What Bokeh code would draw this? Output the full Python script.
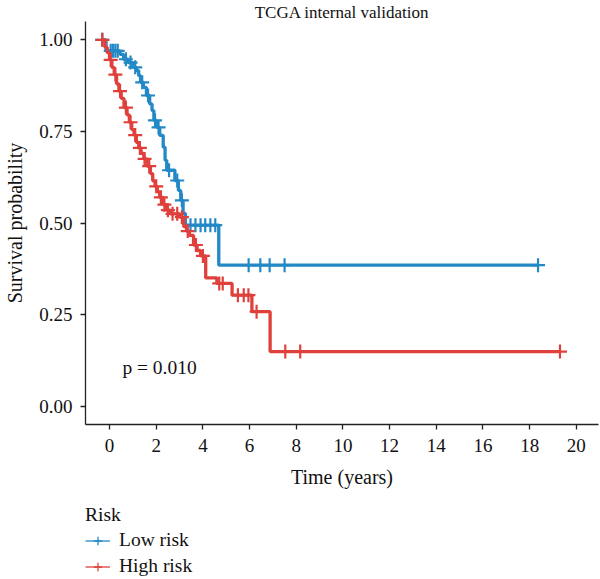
import numpy as np
from bokeh.plotting import figure
from bokeh.models import Range1d, Label, Legend, LegendItem, FixedTicker, NumeralTickFormatter, ColumnDataSource
from bokeh.layouts import column
from bokeh.embed import file_html
from bokeh.resources import INLINE

TITLE = "TCGA internal validation"
X_LABEL = "Time (years)"
Y_LABEL = "Survival probability"
P_TEXT = "p = 0.010"
LEGEND_TITLE = "Risk"
GROUPS = ["Low risk", "High risk"]
COLORS = ["#2389c6", "#e0403b"]
X_TICKS = [0, 2, 4, 6, 8, 10, 12, 14, 16, 18, 20]
Y_TICKS = [0.0, 0.25, 0.5, 0.75, 1.0]

# Low risk: event times and survival after each step
low_t = [-0.31, -0.15, 0.45, 0.6, 0.8, 1.0, 1.15, 1.25, 1.33, 1.45, 1.58, 1.72, 1.82, 1.9,
         2.02, 2.15, 2.3, 2.38, 2.45, 2.8, 2.95, 3.05, 3.15, 3.25, 4.68]
low_s = [1.0, 0.97, 0.96, 0.947, 0.938, 0.925, 0.916, 0.902, 0.884, 0.87, 0.848, 0.825, 0.807, 0.78,
         0.761, 0.739, 0.707, 0.671, 0.644, 0.616, 0.589, 0.562, 0.526, 0.494, 0.385]
low_cens = [-0.31, 0.05, 0.15, 0.25, 0.35, 0.7, 0.9, 1.1, 1.4, 1.65, 1.95, 2.1, 2.55, 2.9, 3.1,
            3.47, 3.68, 3.9, 4.1, 4.32, 4.53, 5.96, 6.46, 6.86, 7.5, 18.36]

# High risk
high_t = [-0.31, -0.2, -0.1, 0.0, 0.1, 0.2, 0.3, 0.4, 0.5, 0.62, 0.75, 0.85, 0.95, 1.05, 1.15,
          1.25, 1.35, 1.47, 1.6, 1.75, 1.85, 1.95, 2.05, 2.15, 2.3, 2.45, 2.6, 3.0, 3.18, 3.3,
          3.42, 3.6, 3.75, 3.9, 4.12, 4.6, 5.25, 6.1, 6.88]
high_s = [1.0, 0.98, 0.965, 0.945, 0.925, 0.905, 0.88, 0.86, 0.84, 0.815, 0.795, 0.775, 0.755,
          0.74, 0.72, 0.705, 0.69, 0.675, 0.655, 0.635, 0.615, 0.6, 0.585, 0.57, 0.55, 0.535,
          0.525, 0.516, 0.49, 0.478, 0.466, 0.44, 0.425, 0.41, 0.35, 0.335, 0.303, 0.258, 0.149]
high_cens = [-0.31, 0.05, 0.25, 0.45, 0.7, 0.9, 1.1, 1.3, 1.5, 1.7, 2.0, 2.2, 2.35, 2.5, 2.7,
             2.9, 3.1, 3.35, 3.7, 4.0, 4.7, 4.85, 5.5, 5.75, 5.95, 6.3, 7.53, 8.17, 19.3]

FONT = "Liberation Serif"
INK = "#111111"

p = figure(width=600, height=500, x_range=Range1d(-1.03, 20.95), y_range=Range1d(-0.05, 1.05),
           output_backend="svg", toolbar_location=None, title=TITLE)
p.min_border_left = 85
p.min_border_right = 2
p.min_border_top = 21
p.min_border_bottom = 76
p.outline_line_color = None
p.grid.visible = False
p.title.align = "center"
p.title.text_font = FONT
p.title.text_font_size = "17px"
p.title.text_font_style = "normal"
p.title.text_color = INK
p.title.standoff = 0
p.title.offset = 0

for ax in (p.xaxis[0], p.yaxis[0]):
    ax.axis_line_color = "#222222"
    ax.axis_line_width = 1.3
    ax.major_tick_line_color = "#222222"
    ax.major_tick_line_width = 1.3
    ax.major_tick_out = 5
    ax.major_tick_in = 0
    ax.minor_tick_line_color = None
    ax.major_label_text_font = FONT
    ax.major_label_text_font_size = "19px"
    ax.major_label_text_color = INK
    ax.axis_label_text_font = FONT
    ax.axis_label_text_font_size = "20px"
    ax.axis_label_text_font_style = "normal"
    ax.axis_label_text_color = INK

p.xaxis.ticker = FixedTicker(ticks=X_TICKS)
p.yaxis.ticker = FixedTicker(ticks=Y_TICKS)
p.yaxis.formatter = NumeralTickFormatter(format="0.00")
p.xaxis.axis_label = X_LABEL
p.yaxis.axis_label = Y_LABEL
p.xaxis.major_label_standoff = 9
p.yaxis.major_label_standoff = 8
p.xaxis.axis_label_standoff = 11
p.yaxis.axis_label_standoff = 10


def draw(ts, ss, cens, color):
    ts = list(ts)
    ss = list(ss)
    last = max(cens)
    xs = ts + [last]
    ys = ss + [ss[-1]]
    p.step(x=xs, y=ys, mode="after", line_color=color, line_width=3.3)
    idx = np.searchsorted(np.array(ts), np.array(cens), side="right") - 1
    idx = np.clip(idx, 0, len(ss) - 1)
    cy = [ss[i] for i in idx]
    p.scatter(x=cens, y=cy, marker="cross", size=14, line_color=color, line_width=2.2)


draw(low_t, low_s, low_cens, COLORS[0])
draw(high_t, high_s, high_cens, COLORS[1])

p.add_layout(Label(x=0.55, y=0.105, text=P_TEXT, text_font=FONT, text_font_size="19.5px",
                   text_color=INK, text_baseline="middle"))

# legend figure
lg = figure(width=600, height=79, x_range=Range1d(0, 1), y_range=Range1d(0, 1),
            output_backend="svg", toolbar_location=None)
lg.axis.visible = False
lg.grid.visible = False
lg.outline_line_color = None
lg.min_border = 0
items = []
for name, col in zip(GROUPS, COLORS):
    src = ColumnDataSource(data=dict(x=[np.nan], y=[np.nan]))
    r1 = lg.line(x="x", y="y", source=src, line_color=col, line_width=1.3)
    r2 = lg.scatter(x="x", y="y", source=src, marker="cross", size=13, line_color=col, line_width=1.3)
    items.append(LegendItem(label=name, renderers=[r1, r2]))
leg = Legend(items=items, title=LEGEND_TITLE, location=(0, 2))
leg.border_line_color = None
leg.background_fill_alpha = 0
leg.margin = 0
leg.padding = 0
leg.spacing = 4
leg.glyph_width = 25
leg.glyph_height = 21
leg.label_height = 21
leg.label_standoff = 9
leg.title_standoff = 3
leg.label_text_font = FONT
leg.label_text_font_size = "19.5px"
leg.label_text_color = INK
leg.title_text_font = FONT
leg.title_text_font_size = "19.5px"
leg.title_text_font_style = "normal"
leg.title_text_color = INK
lg.add_layout(leg)

layout = column(p, lg, spacing=0)
open("out.html", "w").write(file_html(layout, INLINE))
